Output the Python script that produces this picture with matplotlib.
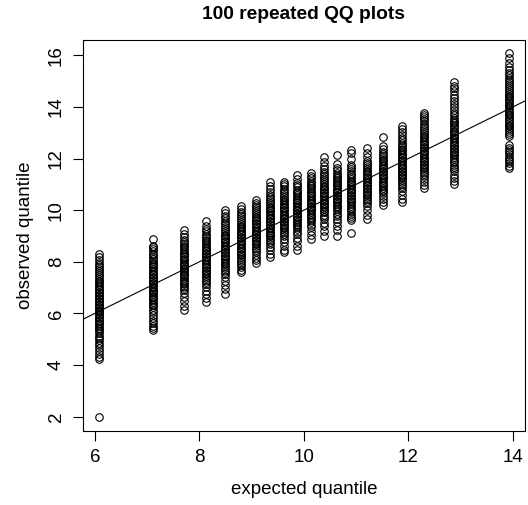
import numpy as np
import matplotlib
matplotlib.use("Agg")
import matplotlib.pyplot as plt

plt.rcParams['font.family'] = ['Liberation Sans', 'DejaVu Sans']

# expected quantiles (one column of points per value)
expected = [6.08, 7.12, 7.70, 8.13, 8.49, 8.80, 9.09, 9.36, 9.62, 9.87,
            10.13, 10.38, 10.64, 10.91, 11.20, 11.51, 11.87, 12.30, 12.88, 13.92]

# observed quantiles (overlapping points merged)
observed = [
    [2.00, 4.22, 4.29, 4.41, 4.55, 4.66, 4.78, 4.86, 4.97, 5.05, 5.14, 5.22, 5.31, 5.38,
     5.44, 5.51, 5.57, 5.63, 5.70, 5.76, 5.81, 5.87, 5.93, 5.98, 6.04, 6.09, 6.15, 6.21,
     6.26, 6.32, 6.38, 6.43, 6.49, 6.55, 6.61, 6.66, 6.72, 6.78, 6.84, 6.90, 6.96, 7.02,
     7.08, 7.14, 7.21, 7.27, 7.34, 7.41, 7.48, 7.56, 7.63, 7.71, 7.79, 7.87, 7.96, 8.06,
     8.17, 8.30],
    [5.37, 5.44, 5.52, 5.61, 5.72, 5.83, 5.94, 6.05, 6.15, 6.24, 6.31, 6.38, 6.45, 6.51,
     6.57, 6.63, 6.69, 6.75, 6.81, 6.86, 6.92, 6.97, 7.03, 7.08, 7.14, 7.19, 7.25, 7.31,
     7.36, 7.42, 7.48, 7.54, 7.60, 7.66, 7.72, 7.78, 7.84, 7.90, 7.97, 8.04, 8.11, 8.18,
     8.25, 8.32, 8.40, 8.48, 8.56, 8.62, 8.90],
    [6.12, 6.30, 6.49, 6.64, 6.80, 6.91, 6.99, 7.06, 7.13, 7.19, 7.25, 7.31, 7.37, 7.43,
     7.48, 7.54, 7.60, 7.65, 7.71, 7.76, 7.82, 7.88, 7.93, 7.99, 8.05, 8.11, 8.17, 8.23,
     8.29, 8.35, 8.42, 8.49, 8.56, 8.63, 8.70, 8.78, 8.86, 8.95, 9.06, 9.22],
    [6.45, 6.58, 6.74, 6.88, 7.02, 7.12, 7.21, 7.29, 7.37, 7.44, 7.51, 7.57, 7.63, 7.69,
     7.75, 7.81, 7.87, 7.93, 7.99, 8.05, 8.11, 8.17, 8.23, 8.29, 8.35, 8.41, 8.47, 8.53,
     8.59, 8.65, 8.72, 8.79, 8.86, 8.93, 9.01, 9.09, 9.18, 9.27, 9.40, 9.58],
    [6.77, 6.93, 7.10, 7.26, 7.41, 7.52, 7.61, 7.69, 7.77, 7.84, 7.91, 7.97, 8.03, 8.09,
     8.15, 8.21, 8.27, 8.33, 8.39, 8.45, 8.51, 8.57, 8.63, 8.69, 8.75, 8.81, 8.87, 8.93,
     8.99, 9.05, 9.12, 9.19, 9.26, 9.34, 9.42, 9.50, 9.59, 9.68, 9.78, 9.88, 10.00],
    [7.60, 7.68, 7.78, 7.87, 7.96, 8.04, 8.11, 8.18, 8.25, 8.31, 8.37, 8.43, 8.49, 8.55,
     8.61, 8.67, 8.73, 8.79, 8.85, 8.91, 8.97, 9.03, 9.09, 9.15, 9.21, 9.27, 9.33, 9.40,
     9.47, 9.54, 9.61, 9.68, 9.76, 9.84, 9.93, 10.03, 10.15],
    [7.97, 8.05, 8.15, 8.26, 8.36, 8.45, 8.53, 8.60, 8.67, 8.73, 8.79, 8.85, 8.91, 8.97,
     9.03, 9.09, 9.15, 9.21, 9.27, 9.33, 9.39, 9.45, 9.51, 9.57, 9.63, 9.69, 9.75, 9.82,
     9.89, 9.96, 10.04, 10.12, 10.20, 10.29, 10.40],
    [8.20, 8.30, 8.44, 8.57, 8.68, 8.77, 8.85, 8.92, 8.99, 9.05, 9.11, 9.17, 9.23, 9.29,
     9.35, 9.41, 9.47, 9.53, 9.59, 9.65, 9.71, 9.77, 9.83, 9.89, 9.95, 10.01, 10.07, 10.14,
     10.21, 10.28, 10.35, 10.43, 10.51, 10.60, 10.70, 10.81, 10.95, 11.10],
    [8.36, 8.47, 8.62, 8.76, 8.88, 8.98, 9.07, 9.15, 9.22, 9.29, 9.35, 9.41, 9.47, 9.53,
     9.59, 9.65, 9.71, 9.77, 9.83, 9.89, 9.95, 10.01, 10.07, 10.13, 10.19, 10.25, 10.31,
     10.38, 10.45, 10.52, 10.59, 10.67, 10.75, 10.84, 10.93, 11.02, 11.10],
    [8.47, 8.60, 8.79, 8.94, 9.07, 9.17, 9.26, 9.34, 9.41, 9.48, 9.54, 9.60, 9.66, 9.72,
     9.78, 9.84, 9.90, 9.96, 10.02, 10.08, 10.14, 10.20, 10.26, 10.32, 10.38, 10.44, 10.51,
     10.58, 10.65, 10.72, 10.80, 10.88, 10.97, 11.07, 11.20, 11.38],
    [8.90, 9.03, 9.19, 9.33, 9.44, 9.53, 9.61, 9.68, 9.75, 9.81, 9.87, 9.93, 9.99, 10.05,
     10.11, 10.17, 10.23, 10.29, 10.35, 10.41, 10.47, 10.53, 10.59, 10.65, 10.71, 10.78,
     10.85, 10.92, 10.99, 11.07, 11.15, 11.24, 11.34, 11.45],
    [8.98, 9.18, 9.37, 9.52, 9.64, 9.74, 9.83, 9.91, 9.98, 10.05, 10.11, 10.17, 10.23,
     10.29, 10.35, 10.41, 10.47, 10.53, 10.59, 10.65, 10.71, 10.77, 10.83, 10.89, 10.95,
     11.02, 11.09, 11.16, 11.23, 11.31, 11.39, 11.48, 11.58, 11.70, 11.86, 12.08],
    [9.00, 9.24, 9.40, 9.54, 9.66, 9.77, 9.87, 9.96, 10.04, 10.11, 10.18, 10.24, 10.30,
     10.36, 10.42, 10.48, 10.54, 10.60, 10.66, 10.72, 10.78, 10.84, 10.90, 10.96, 11.02,
     11.09, 11.16, 11.23, 11.30, 11.38, 11.46, 11.55, 11.65, 11.80, 12.15],
    [9.10, 9.60, 9.70, 9.79, 9.87, 9.95, 10.03, 10.10, 10.17, 10.24, 10.30, 10.36, 10.42,
     10.48, 10.54, 10.60, 10.66, 10.72, 10.78, 10.84, 10.90, 10.96, 11.02, 11.08, 11.14,
     11.21, 11.28, 11.35, 11.42, 11.50, 11.58, 11.67, 11.77, 12.00, 12.20, 12.35],
    [9.67, 9.83, 10.00, 10.15, 10.26, 10.35, 10.43, 10.50, 10.57, 10.63, 10.69, 10.75,
     10.81, 10.87, 10.93, 10.99, 11.05, 11.11, 11.17, 11.23, 11.29, 11.35, 11.41, 11.47,
     11.53, 11.60, 11.67, 11.74, 11.82, 11.92, 12.05, 12.20, 12.40],
    [10.20, 10.31, 10.45, 10.56, 10.65, 10.73, 10.80, 10.87, 10.93, 10.99, 11.05, 11.11,
     11.17, 11.23, 11.29, 11.35, 11.41, 11.47, 11.53, 11.59, 11.65, 11.71, 11.77, 11.83,
     11.89, 11.96, 12.03, 12.10, 12.18, 12.27, 12.37, 12.50, 12.85],
    [10.30, 10.43, 10.60, 10.75, 10.86, 10.95, 11.03, 11.10, 11.17, 11.23, 11.29, 11.35,
     11.41, 11.47, 11.53, 11.59, 11.65, 11.71, 11.77, 11.83, 11.89, 11.95, 12.01, 12.07,
     12.13, 12.19, 12.25, 12.32, 12.39, 12.46, 12.54, 12.62, 12.71, 12.80, 12.90, 13.02,
     13.15, 13.28],
    [10.87, 10.97, 11.09, 11.21, 11.31, 11.40, 11.48, 11.55, 11.62, 11.68, 11.74, 11.80,
     11.86, 11.92, 11.98, 12.04, 12.10, 12.16, 12.22, 12.28, 12.34, 12.40, 12.46, 12.52,
     12.58, 12.64, 12.70, 12.76, 12.82, 12.89, 12.96, 13.03, 13.10, 13.18, 13.26, 13.35,
     13.44, 13.53, 13.62, 13.70, 13.78],
    [11.03, 11.12, 11.25, 11.38, 11.50, 11.60, 11.69, 11.77, 11.85, 11.92, 11.99, 12.06,
     12.12, 12.18, 12.24, 12.30, 12.36, 12.42, 12.48, 12.54, 12.60, 12.66, 12.72, 12.78,
     12.84, 12.90, 12.96, 13.02, 13.08, 13.15, 13.22, 13.29, 13.36, 13.43, 13.51, 13.59,
     13.68, 13.77, 13.87, 13.98, 14.10, 14.22, 14.35, 14.48, 14.60, 14.72, 14.83, 14.95],
    [11.65, 11.73, 11.82, 11.91, 12.00, 12.08, 12.16, 12.24, 12.33, 12.42, 12.52, 12.86,
     12.95, 13.03, 13.11, 13.18, 13.25, 13.32, 13.39, 13.46, 13.53, 13.60, 13.67, 13.74,
     13.81, 13.88, 13.95, 14.02, 14.09, 14.16, 14.23, 14.30, 14.37, 14.44, 14.51, 14.58,
     14.65, 14.72, 14.80, 14.88, 14.96, 15.04, 15.13, 15.22, 15.31, 15.42, 15.55, 15.70,
     15.90, 16.08],
]

fig = plt.figure(figsize=(5.28, 5.05), dpi=100)
ax = fig.add_axes([0.157, 0.1465, 0.837, 0.7745])

for xq, ys in zip(expected, observed):
    ax.plot(np.full(len(ys), xq), ys, 'o', mfc='none', mec='black',
            ms=5.4, mew=0.8, ls='none')

ax.axline((0, 0), slope=1, color='black', lw=0.8)

ax.set_xlim(5.77, 14.23)
ax.set_ylim(1.44, 16.6)
ax.set_xticks([6, 8, 10, 12, 14])
ax.set_yticks([2, 4, 6, 8, 10, 12, 14, 16])
for lab in ax.get_yticklabels():
    lab.set_rotation(90)
    lab.set_va('center')
ax.tick_params(labelsize=13.5, length=7, width=0.8, pad=6)
for s in ax.spines.values():
    s.set_linewidth(0.8)

ax.set_xlabel('expected quantile', fontsize=13.5, labelpad=11)
ax.set_ylabel('observed quantile', fontsize=13.5, labelpad=10)
ax.set_title('100 repeated QQ plots', fontsize=13.8, fontweight='bold', pad=15)

fig.savefig('out.png', dpi=100)
